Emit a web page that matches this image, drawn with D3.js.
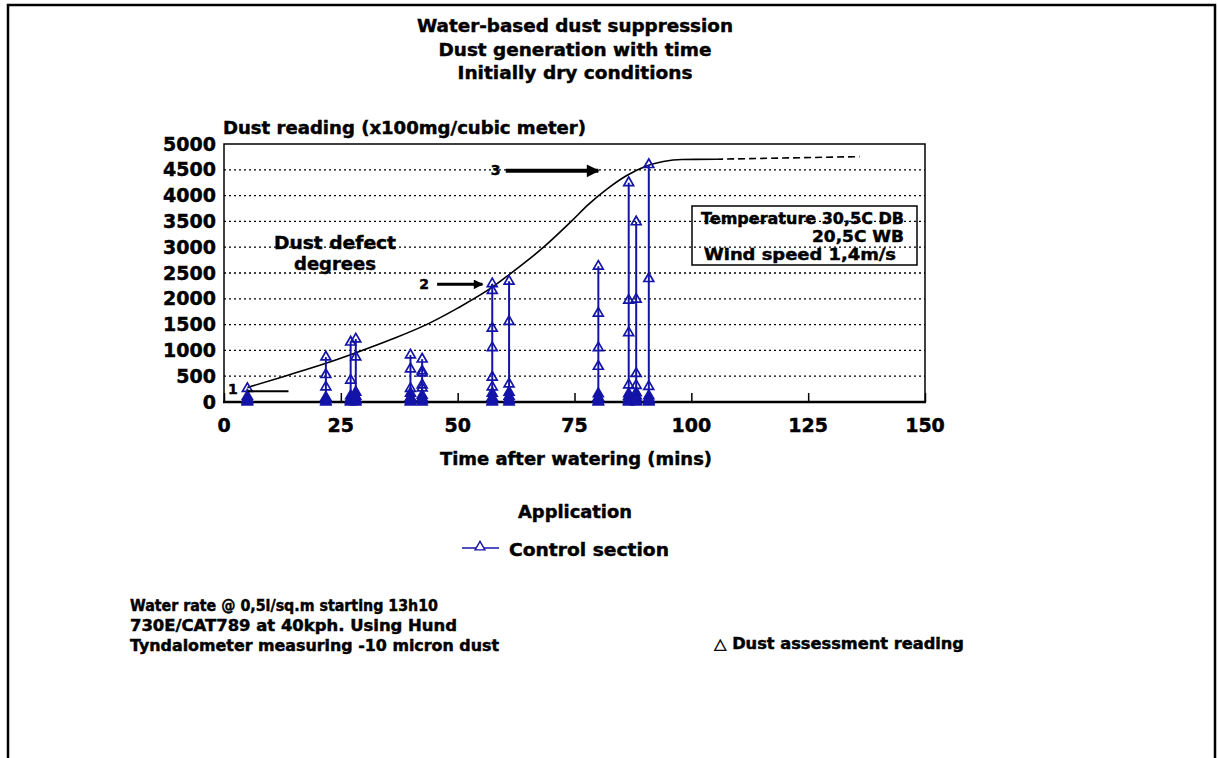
<!DOCTYPE html>
<html>
<head>
<meta charset="utf-8">
<script src="https://cdn.jsdelivr.net/npm/d3@7"></script>
<style>
  html, body { margin: 0; padding: 0; background: #fff; }
  svg { display: block; font-family: "DejaVu Sans", "Liberation Sans", sans-serif; font-weight: bold; }
  svg text { fill: #000; stroke: #000; stroke-width: 0.45px; }
</style>
</head>
<body>
<svg id="chart" width="1218" height="758"></svg>
<script>
// Sampling times (minutes after watering) of each reading column
const readingTimes = [5, 21.8, 27.1, 28.2, 39.9, 42.4, 57.4, 61.0, 80.1, 86.6, 88.2, 90.9];
// Dust readings (x100 mg/cubic metre) taken at each of those times
const readingValues = [
  [260, 110, 70, 40, 15, 0],
  [870, 530, 290, 90, 50, 20, 0],
  [1160, 420, 120, 70, 40, 15, 0],
  [1220, 870, 190, 110, 60, 30, 0],
  [910, 640, 260, 170, 90, 50, 20, 0],
  [830, 600, 560, 330, 270, 130, 80, 40, 0],
  [2290, 2160, 1430, 1050, 480, 290, 170, 90, 50, 20, 0],
  [2340, 1560, 350, 190, 110, 60, 30, 0],
  [2630, 1720, 1050, 690, 160, 90, 50, 20, 0],
  [4250, 1970, 1340, 330, 160, 110, 70, 40, 15, 0],
  [3490, 1990, 550, 320, 180, 120, 80, 40, 15, 0],
  [4600, 2390, 300, 120, 70, 40, 15, 0]
];

// Dust generation trend line
const curveTimes = [5, 13, 21.8, 28.4, 36, 43.3, 50, 57.4, 61.1, 68.2, 74.3, 78, 82, 86, 90, 94, 98, 105.3];
const curveDust  = [280, 500, 750, 960, 1220, 1500, 1820, 2225, 2475, 2985, 3500, 3830, 4130, 4380, 4560, 4660, 4700, 4705];
// Projected continuation of the trend (dashed)
const extensionTimes = [105.3, 136];
const extensionDust  = [4705, 4755];

const xTicks = [0, 25, 50, 75, 100, 125, 150];
const yTicks = [0, 500, 1000, 1500, 2000, 2500, 3000, 3500, 4000, 4500, 5000];

const titleLines = ["Water-based dust suppression", "Dust generation with time", "Initially dry conditions"];
const yTitle = "Dust reading (x100mg/cubic meter)";
const xTitle = "Time after watering (mins)";
const legendTitle = "Application";
const seriesName = "Control section";
const noteLines = ["Water rate @ 0,5l/sq.m starting 13h10", "730E/CAT789 at 40kph. Using Hund", "Tyndalometer measuring -10 micron dust"];
const markerNote = "\u25B3 Dust assessment reading";
const conditionLines = ["Temperature 30,5C DB", "20,5C WB", "Wind speed 1,4m/s"];
const defectLabel = ["Dust defect", "degrees"];

// Defect degree markers: label, label position, arrow start/end (time, dust)
const degreeLabels = ["1", "2", "3"];
const degreeLabelAt = [[1.9, 150], [42.8, 2190], [58.1, 4390]];
const degreeArrowFrom = [[5.1, 210], [45.6, 2280], [60.3, 4480]];
const degreeArrowTo = [[13.8, 210], [55.3, 2280], [80.1, 4480]];
const degreeArrowHead = [false, true, true];
const degreeArrowWidth = [2, 3, 4];

const BLUE = "#1414a8";

const svg = d3.select("#chart");

// Outer frame
svg.append("path")
  .attr("d", "M8,758 L8,5 L1215,5 L1215,758")
  .attr("fill", "none").attr("stroke", "#000").attr("stroke-width", 2.5);

const x = d3.scaleLinear().domain([0, 150]).range([224, 925]);
const y = d3.scaleLinear().domain([0, 5000]).range([402, 144]);

// Title
svg.append("g").selectAll("text").data(titleLines).join("text")
  .attr("x", 575).attr("y", (d, i) => 32 + i * 23.5)
  .attr("text-anchor", "middle").attr("font-size", 18)
  .attr("textLength", (d, i) => [316, 273, 235][i])
  .attr("lengthAdjust", "spacingAndGlyphs")
  .text(d => d);

// Horizontal dotted grid
svg.append("g").selectAll("line").data(yTicks.filter(v => v > 0 && v < 5000)).join("line")
  .attr("x1", x(0)).attr("x2", x(150))
  .attr("y1", d => y(d)).attr("y2", d => y(d))
  .attr("stroke", "#000").attr("stroke-width", 1.3).attr("stroke-dasharray", "2,3");

// Plot frame
svg.append("rect")
  .attr("x", x(0)).attr("y", y(5000))
  .attr("width", x(150) - x(0)).attr("height", y(0) - y(5000))
  .attr("fill", "none").attr("stroke", "#000").attr("stroke-width", 1.5);
svg.append("line")
  .attr("x1", x(0) - 1).attr("x2", x(150) + 1).attr("y1", y(0)).attr("y2", y(0))
  .attr("stroke", "#000").attr("stroke-width", 2.5);

// Y axis labels
const yAxis = d3.axisLeft(y).tickValues(yTicks).tickSize(0).tickPadding(8).tickFormat(d3.format("d"));
const gy = svg.append("g").attr("transform", `translate(${x(0)},0)`).call(yAxis);
gy.select(".domain").remove();
gy.selectAll("text").attr("font-size", 19).attr("font-family", "DejaVu Sans").attr("font-weight", "bold");

// X axis with small inward ticks
const xAxis = d3.axisTop(x).tickValues(xTicks).tickSize(9).tickFormat("");
const gx = svg.append("g").attr("transform", `translate(0,${y(0)})`).call(xAxis);
gx.select(".domain").remove();
gx.selectAll("line").attr("stroke", "#000").attr("stroke-width", 1.5);
svg.append("g").selectAll("text").data(xTicks).join("text")
  .attr("x", d => x(d)).attr("y", 432)
  .attr("text-anchor", "middle").attr("font-size", 19)
  .text(d => d);

// Axis titles
svg.append("text").attr("x", 223).attr("y", 134).attr("font-size", 17)
  .attr("textLength", 363).attr("lengthAdjust", "spacingAndGlyphs").text(yTitle);
svg.append("text").attr("x", 440).attr("y", 465).attr("font-size", 18)
  .attr("textLength", 272).attr("lengthAdjust", "spacingAndGlyphs").text(xTitle);

// Conditions box
svg.append("rect").attr("x", 692).attr("y", 206).attr("width", 225).attr("height", 59)
  .attr("fill", "none").attr("stroke", "#000").attr("stroke-width", 1.5);
svg.append("text").attr("x", 701).attr("y", 224).attr("font-size", 16)
  .attr("textLength", 203).attr("lengthAdjust", "spacingAndGlyphs").text(conditionLines[0]);
svg.append("text").attr("x", 904).attr("y", 242).attr("font-size", 16).attr("text-anchor", "end")
  .attr("textLength", 92).attr("lengthAdjust", "spacingAndGlyphs").text(conditionLines[1]);
svg.append("text").attr("x", 704).attr("y", 260).attr("font-size", 16)
  .attr("textLength", 192).attr("lengthAdjust", "spacingAndGlyphs").text(conditionLines[2]);

// "Dust defect degrees" caption
svg.append("g").selectAll("text").data(defectLabel).join("text")
  .attr("x", 335).attr("y", (d, i) => 249 + i * 21)
  .attr("text-anchor", "middle").attr("font-size", 18)
  .attr("textLength", (d, i) => [122, 82][i]).attr("lengthAdjust", "spacingAndGlyphs")
  .text(d => d);

// Trend curve
const line = d3.line().x(d => x(d[0])).y(d => y(d[1])).curve(d3.curveMonotoneX);
svg.append("path")
  .datum(curveTimes.map((t, i) => [t, curveDust[i]]))
  .attr("d", line).attr("fill", "none").attr("stroke", "#000").attr("stroke-width", 1.6);
svg.append("path")
  .datum(extensionTimes.map((t, i) => [t, extensionDust[i]]))
  .attr("d", d3.line().x(d => x(d[0])).y(d => y(d[1])))
  .attr("fill", "none").attr("stroke", "#000").attr("stroke-width", 1.6)
  .attr("stroke-dasharray", "7,4");

// Reading columns: vertical connector and triangle markers
const tri = d3.symbol().type(d3.symbolTriangle).size(42);
const cols = svg.append("g");
readingTimes.forEach((t, i) => {
  const vals = readingValues[i];
  cols.append("line")
    .attr("x1", x(t)).attr("x2", x(t))
    .attr("y1", y(d3.min(vals))).attr("y2", y(d3.max(vals)))
    .attr("stroke", BLUE).attr("stroke-width", 2);
  cols.append("g").selectAll("path").data(vals).join("path")
    .attr("d", tri)
    .attr("transform", d => `translate(${x(t)},${y(d)})`)
    .attr("fill", d => d < 200 ? BLUE : "none")
    .attr("stroke", BLUE).attr("stroke-width", 1.7);
});

// Defect degree arrows
const defs = svg.append("defs");
defs.append("marker").attr("id", "head").attr("viewBox", "0 0 10 10")
  .attr("refX", 9).attr("refY", 5).attr("markerWidth", 4).attr("markerHeight", 3.2)
  .attr("orient", "auto").attr("markerUnits", "strokeWidth")
  .append("path").attr("d", "M0,0 L10,5 L0,10 Z").attr("fill", "#000");
degreeLabels.forEach((lab, i) => {
  svg.append("line")
    .attr("x1", x(degreeArrowFrom[i][0])).attr("y1", y(degreeArrowFrom[i][1]))
    .attr("x2", x(degreeArrowTo[i][0])).attr("y2", y(degreeArrowTo[i][1]))
    .attr("stroke", "#000").attr("stroke-width", degreeArrowWidth[i])
    .attr("marker-end", degreeArrowHead[i] ? "url(#head)" : null);
  svg.append("text")
    .attr("x", x(degreeLabelAt[i][0])).attr("y", y(degreeLabelAt[i][1]))
    .attr("text-anchor", "middle").attr("font-size", 14).text(lab);
});

// Legend
svg.append("text").attr("x", 575).attr("y", 518).attr("text-anchor", "middle").attr("font-size", 18)
  .attr("textLength", 114).attr("lengthAdjust", "spacingAndGlyphs").text(legendTitle);
svg.append("line").attr("x1", 462).attr("x2", 499).attr("y1", 548).attr("y2", 548)
  .attr("stroke", BLUE).attr("stroke-width", 1.6);
svg.append("path").attr("d", tri).attr("transform", "translate(480,547)")
  .attr("fill", "#fff").attr("stroke", BLUE).attr("stroke-width", 1.4);
svg.append("text").attr("x", 509).attr("y", 556).attr("font-size", 18)
  .attr("textLength", 160).attr("lengthAdjust", "spacingAndGlyphs").text(seriesName);

// Notes
svg.append("g").selectAll("text").data(noteLines).join("text")
  .attr("x", 130).attr("y", (d, i) => 611 + i * 20).attr("font-size", 15)
  .attr("textLength", (d, i) => [308, 327, 369][i]).attr("lengthAdjust", "spacingAndGlyphs")
  .text(d => d);
svg.append("text").attr("x", 714).attr("y", 649).attr("font-size", 15)
  .attr("textLength", 250).attr("lengthAdjust", "spacingAndGlyphs").text(markerNote);
</script>
</body>
</html>
